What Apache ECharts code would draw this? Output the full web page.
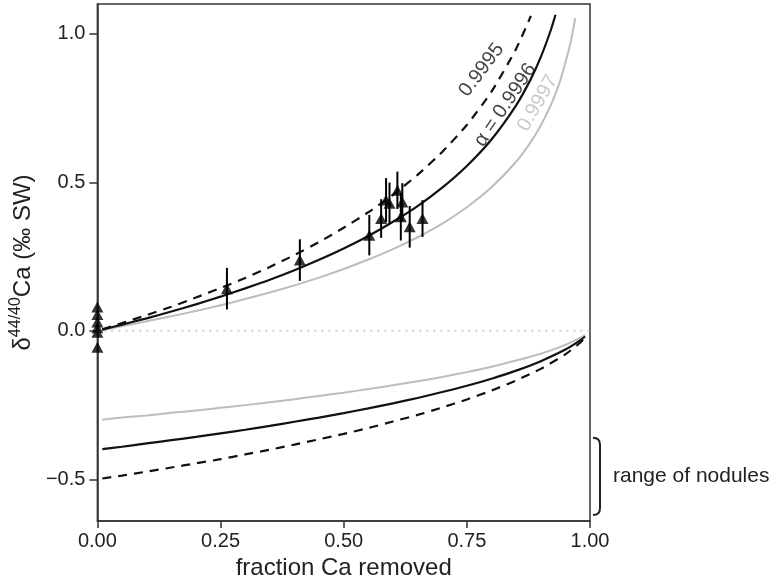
<!DOCTYPE html>
<html><head><meta charset="utf-8">
<script src="https://cdn.jsdelivr.net/npm/echarts@6/dist/echarts.min.js"></script>
<style>html,body{margin:0;padding:0;background:#fff}#c{width:773px;height:588px}</style>
</head><body><div id="c"></div>
<script>
// ---- data ----
const xTicks = [0, 0.25, 0.5, 0.75, 1];
const yTicks = [-0.5, 0, 0.5, 1.0];

// fluid curves (upper)
const upperFrac = [0.01,0.05,0.1,0.15,0.2,0.25,0.3,0.35,0.4,0.45,0.5,0.55,0.6,0.65,0.7,0.75,0.8,0.85,0.88,0.9,0.92,0.93,0.94,0.96,0.97];
const upper9995 = [0.005,0.026,0.053,0.081,0.112,0.144,0.178,0.215,0.255,0.299,0.347,0.399,0.458,0.525,0.602,0.693,0.805,0.949,1.060];
const upper9996 = [0.004,0.021,0.042,0.065,0.089,0.115,0.143,0.172,0.204,0.239,0.277,0.319,0.367,0.420,0.482,0.555,0.644,0.759,0.848,0.921,1.010,1.064];
const upper9997 = [0.003,0.015,0.032,0.049,0.067,0.086,0.107,0.129,0.153,0.179,0.208,0.240,0.275,0.315,0.361,0.416,0.483,0.569,0.636,0.691,0.758,0.798,0.844,0.966,1.052];

// precipitate curves (lower)
const lowerFrac = [0.01,0.05,0.1,0.15,0.2,0.25,0.3,0.35,0.4,0.45,0.5,0.55,0.6,0.65,0.7,0.75,0.8,0.85,0.9,0.95,0.98,0.99];
const lower9995 = [-0.497,-0.487,-0.474,-0.460,-0.446,-0.432,-0.416,-0.400,-0.383,-0.365,-0.347,-0.327,-0.305,-0.283,-0.258,-0.231,-0.201,-0.167,-0.128,-0.079,-0.040,-0.023];
const lower9996 = [-0.398,-0.390,-0.379,-0.368,-0.357,-0.345,-0.333,-0.320,-0.306,-0.292,-0.277,-0.261,-0.244,-0.226,-0.206,-0.185,-0.161,-0.134,-0.102,-0.063,-0.032,-0.019];
const lower9997 = [-0.299,-0.292,-0.285,-0.276,-0.268,-0.259,-0.250,-0.240,-0.230,-0.219,-0.208,-0.196,-0.183,-0.170,-0.155,-0.139,-0.121,-0.100,-0.077,-0.047,-0.024,-0.014];

// zero reference
const zeroFrac = [0, 1];
const zeroDelta = [0, 0];

// measured samples
const pointFrac  = [0,0,0,0,0,0, 0.263,0.411,0.552,0.576,0.586,0.593,0.609,0.616,0.619,0.634,0.660];
const pointDelta = [0.08,0.055,0.03,0.01,-0.005,-0.055, 0.142,0.238,0.322,0.378,0.440,0.429,0.473,0.384,0.434,0.350,0.378];
const pointErr   = [0,0,0,0,0,0, 0.07,0.07,0.068,0.065,0.074,0.07,0.063,0.08,0.063,0.07,0.062];

// curve annotations
const labelTexts = ['0.9995', 'α = 0.9996', '0.9997'];
const labelFrac  = [0.780, 0.828, 0.894];
const labelDelta = [0.878, 0.760, 0.766];

// range of nodules
const noduleRange = [-0.62, -0.36];
const noduleText = 'range of nodules';

// ---- chart ----
const FONT = '"Liberation Sans", Arial, Helvetica, sans-serif';
const pairs = (xs, ys) => ys.map((y, i) => [xs[i], y]);
const lineSeries = (data, color, type, width) => ({
  type: 'line', data, showSymbol: false, symbol: 'none', smooth: 0.2,
  lineStyle: { color, type, width }, z: 3, silent: true
});

const chart = echarts.init(document.getElementById('c'), null, { renderer: 'canvas' });
chart.setOption({
  backgroundColor: '#fff',
  animation: false,
  textStyle: { fontFamily: FONT },
  grid: { left: 95, top: 4, width: 495, height: 517, show: true, borderColor: '#333', borderWidth: 1.5, containLabel: false },
  xAxis: {
    type: 'value', min: 0, max: 1, interval: 0.25,
    axisLine: { show: true, onZero: false, lineStyle: { color: '#333', width: 1.5 } },
    axisTick: { show: true, length: 7, lineStyle: { color: '#333', width: 1.5 } },
    axisLabel: { fontSize: 20, color: '#222', margin: 10, fontFamily: FONT,
      customValues: xTicks, formatter: v => v.toFixed(2) },
    splitLine: { show: false },
    name: 'fraction Ca removed', nameLocation: 'middle', nameGap: 34,
    nameTextStyle: { fontSize: 24, color: '#222', fontFamily: FONT }
  },
  yAxis: {
    type: 'value', min: -0.64, max: 1.10,
    axisLine: { show: true, onZero: false, lineStyle: { color: '#333', width: 1.5 } },
    axisTick: { show: true, length: 8, customValues: yTicks, lineStyle: { color: '#333', width: 1.5 } },
    axisLabel: { fontSize: 20, color: '#222', margin: 12, fontFamily: FONT,
      customValues: yTicks, formatter: v => (v < 0 ? '\u2212' : '') + Math.abs(v).toFixed(1) },
    splitLine: { show: false },
    name: '{a|δ}{s|44/40}{a|Ca (‰ SW)}', nameLocation: 'middle', nameGap: 54, nameRotate: 90,
    nameTextStyle: { color: '#222', fontFamily: FONT,
      rich: {
        a: { fontSize: 24, lineHeight: 30, color: '#222', fontFamily: FONT },
        s: { fontSize: 16, lineHeight: 16, verticalAlign: 'top', color: '#222', fontFamily: FONT }
      } }
  },
  series: [
    { type: 'line', data: pairs(zeroFrac, zeroDelta), symbol: 'none', silent: true, z: 1,
      lineStyle: { color: '#cfcfcf', type: [2, 5], width: 2 } },
    lineSeries(pairs(upperFrac, upper9997), '#bdbdbd', 'solid', 2),
    lineSeries(pairs(upperFrac, upper9996), '#111', 'solid', 2.2),
    lineSeries(pairs(upperFrac, upper9995), '#111', [9, 7], 2.2),
    lineSeries(pairs(lowerFrac, lower9997), '#bdbdbd', 'solid', 2),
    lineSeries(pairs(lowerFrac, lower9996), '#111', 'solid', 2.2),
    lineSeries(pairs(lowerFrac, lower9995), '#111', [9, 7], 2.2),
    { type: 'custom', clip: false, z: 5, silent: true,
      data: pointFrac.map((f, i) => [f, pointDelta[i], pointErr[i]]),
      renderItem: (params, api) => {
        const x = api.value(0), y = api.value(1), e = api.value(2);
        if (!e) return null;
        const p1 = api.coord([x, y + e]), p2 = api.coord([x, y - e]);
        return { type: 'line', shape: { x1: p1[0], y1: p1[1], x2: p2[0], y2: p2[1] },
          style: { stroke: '#000', lineWidth: 2 } };
      } },
    { type: 'scatter', clip: false, z: 6, silent: true, symbol: 'triangle', symbolSize: [12, 11],
      itemStyle: { color: '#000' }, data: pairs(pointFrac, pointDelta) },
    { type: 'scatter', clip: false, z: 7, silent: true, symbolSize: 0,
      data: labelTexts.map((t, i) => ({
        value: [labelFrac[i], labelDelta[i]],
        label: { show: true, position: 'inside', formatter: t, fontSize: 20, fontFamily: FONT,
          rotate: [53, 56, 60][i], color: i === 2 ? '#bdbdbd' : '#111' }
      })) },
    { type: 'custom', clip: false, z: 5, silent: true,
      data: [[1, noduleRange[0], noduleRange[1]]],
      renderItem: (params, api) => {
        const top = api.coord([api.value(0), api.value(2)]);
        const bot = api.coord([api.value(0), api.value(1)]);
        const x = top[0] + 10;
        return { type: 'group', children: [
          { type: 'path', shape: { pathData:
              `M ${x - 7} ${top[1]} Q ${x} ${top[1]} ${x} ${top[1] + 7} L ${x} ${bot[1] - 7} Q ${x} ${bot[1]} ${x - 7} ${bot[1]}` },
            style: { stroke: '#222', lineWidth: 2, fill: null } },
          { type: 'text', x: x + 13, y: (top[1] + bot[1]) / 2,
            style: { text: noduleText, fontSize: 21, fontFamily: FONT, fill: '#222', align: 'left', verticalAlign: 'middle' } }
        ] };
      } }
  ]
});
</script></body></html>
